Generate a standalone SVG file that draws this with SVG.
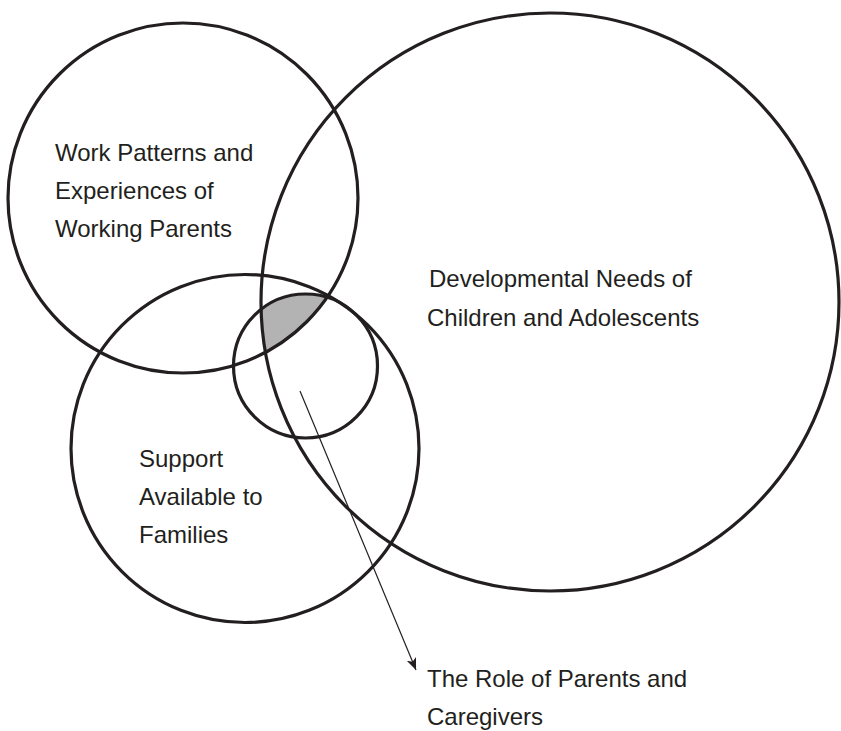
<svg xmlns="http://www.w3.org/2000/svg" width="841" height="731" viewBox="0 0 841 731">
<style>
.c{fill:none;stroke:#231f20;stroke-width:3.2}
.t{font-family:"Liberation Sans",Arial,sans-serif;font-size:24px;fill:#231f20}
.a{stroke:#231f20;stroke-width:1.2;fill:none}
</style>
<defs>
<clipPath id="cw"><circle cx="183" cy="198" r="175"/></clipPath>
<clipPath id="cd"><circle cx="550" cy="302" r="289"/></clipPath>
<marker id="ah" viewBox="0 0 12 10" refX="12" refY="5" markerWidth="12" markerHeight="10" markerUnits="userSpaceOnUse" orient="auto">
<path d="M0,0 L12,5 L0,10 L3,5 Z" fill="#231f20"/>
</marker>
</defs>
<rect width="841" height="731" fill="#fff"/>
<g id="shade" clip-path="url(#cw)"><g clip-path="url(#cd)"><circle cx="305.5" cy="366" r="72" fill="#b3b3b3"/></g></g>
<g id="work"><circle class="c" cx="183" cy="198" r="175"/>
<text class="t" x="55" y="161">Work Patterns and</text>
<text class="t" x="55" y="199">Experiences of</text>
<text class="t" x="55" y="237">Working Parents</text></g>
<g id="dev"><circle class="c" cx="550" cy="302" r="289"/>
<text class="t" x="429" y="287">Developmental Needs of</text>
<text class="t" x="427" y="326">Children and Adolescents</text></g>
<g id="support"><circle class="c" cx="245" cy="448.5" r="174"/>
<text class="t" x="139" y="467">Support</text>
<text class="t" x="139" y="505">Available to</text>
<text class="t" x="139" y="543">Families</text></g>
<g id="role"><circle class="c" cx="305.5" cy="366" r="72"/>
<text class="t" x="427" y="687">The Role of Parents and</text>
<text class="t" x="427" y="725">Caregivers</text></g>
<g id="connectors"><line class="a" x1="300" y1="391" x2="416" y2="670" marker-end="url(#ah)"/></g>
</svg>
